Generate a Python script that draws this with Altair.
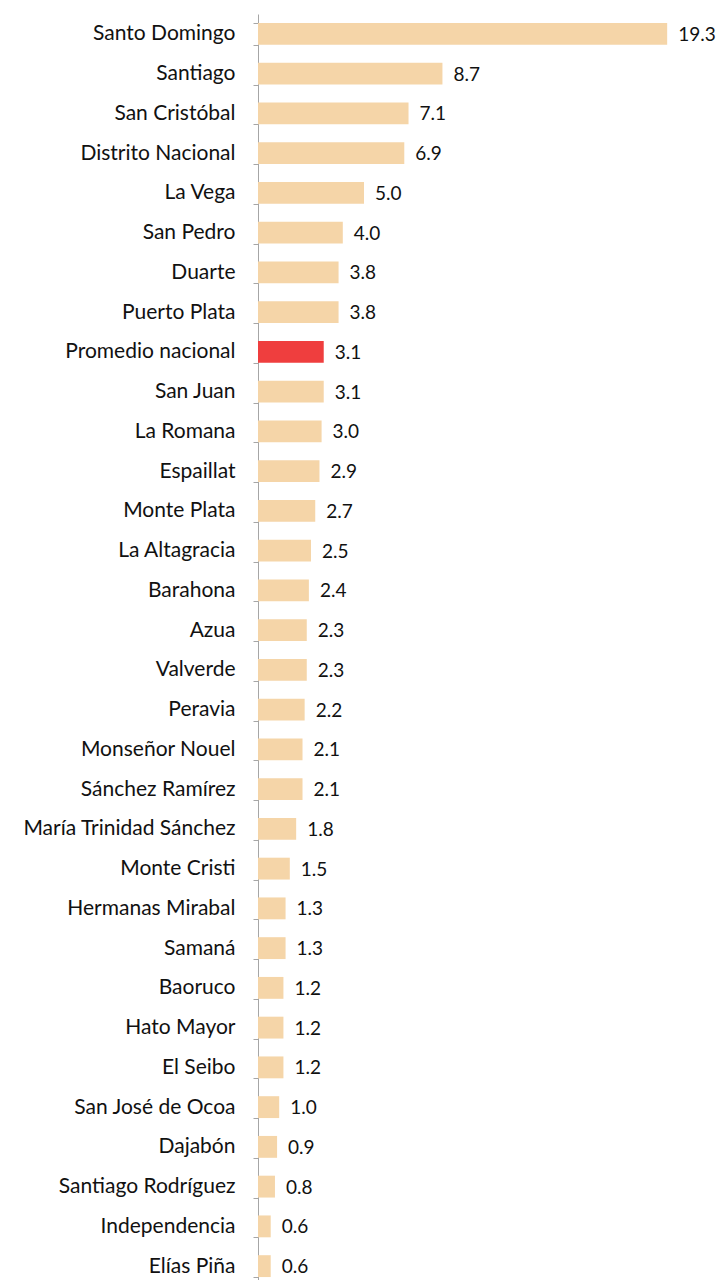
import altair as alt
import pandas as pd

provinces = ["Santo Domingo", "Santiago", "San Cristóbal", "Distrito Nacional", "La Vega",
             "San Pedro", "Duarte", "Puerto Plata", "Promedio nacional", "San Juan",
             "La Romana", "Espaillat", "Monte Plata", "La Altagracia", "Barahona",
             "Azua", "Valverde", "Peravia", "Monseñor Nouel", "Sánchez Ramírez",
             "María Trinidad Sánchez", "Monte Cristi", "Hermanas Mirabal", "Samaná", "Baoruco",
             "Hato Mayor", "El Seibo", "San José de Ocoa", "Dajabón", "Santiago Rodríguez",
             "Independencia", "Elías Piña"]
values = [19.3, 8.7, 7.1, 6.9, 5.0, 4.0, 3.8, 3.8, 3.1, 3.1,
          3.0, 2.9, 2.7, 2.5, 2.4, 2.3, 2.3, 2.2, 2.1, 2.1,
          1.8, 1.5, 1.3, 1.3, 1.2, 1.2, 1.2, 1.0, 0.9, 0.8,
          0.6, 0.6]
highlight = ["Promedio nacional"]

df = pd.DataFrame({"provincia": provinces, "valor": values})
df["tipo"] = ["nac" if p in highlight else "prov" for p in provinces]

FONT = "Lato"

y = alt.Y("provincia:N", sort=provinces, title=None,
          scale=alt.Scale(paddingInner=0.45, paddingOuter=0.225),
          axis=alt.Axis(domainColor="#a6a6a6", tickColor="#a6a6a6", tickSize=5,
                        tickBand="extent", labelFont=FONT, labelFontSize=21,
                        labelColor="#111111", labelPadding=18, labelLimit=400))
x = alt.X("valor:Q", title=None, scale=alt.Scale(domain=[0, 21.65], nice=False),
          axis=None)

bars = alt.Chart(df).mark_bar().encode(
    y=y, x=x,
    color=alt.Color("tipo:N", scale=alt.Scale(domain=["prov", "nac"],
                                               range=["#F5D5A8", "#EF3E3E"]), legend=None),
)
labels = alt.Chart(df).mark_text(align="left", baseline="middle", dx=11, dy=1,
                                 font=FONT, fontSize=19, color="#111111").encode(
    y=alt.Y("provincia:N", sort=provinces), x="valor:Q",
    text=alt.Text("valor:Q", format=".1f"))

chart = (bars + labels).properties(
    width=459, height=1272,
    autosize=alt.AutoSizeParams(type="none"),
    padding={"left": 250, "top": 6, "right": 0, "bottom": 0},
).configure_view(stroke=None)

chart.save("out.html", embed_options={"renderer": "svg", "actions": False})
